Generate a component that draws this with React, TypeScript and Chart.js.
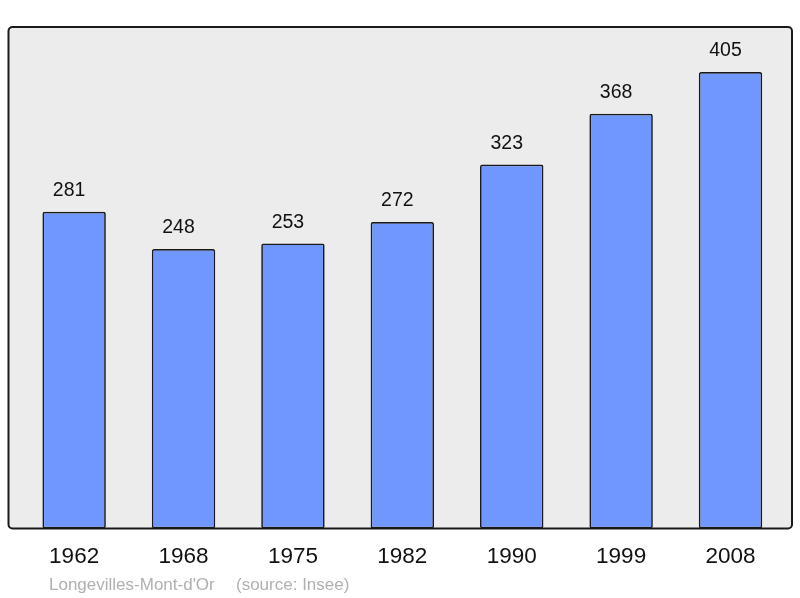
import React, { useEffect, useRef } from 'react';
import { Chart, registerables } from 'chart.js';

Chart.register(...registerables);

const years = ['1962', '1968', '1975', '1982', '1990', '1999', '2008'];
const population = [281, 248, 253, 272, 323, 368, 405];
const place = 'Longevilles-Mont-d\'Or';
const source = '(source: Insee)';

const FONT = '"Liberation Sans", Arial, sans-serif';

const framePlugin = {
  id: 'frame',
  beforeDatasetsDraw(chart: Chart) {
    const { ctx, chartArea: a } = chart;
    ctx.save();
    ctx.beginPath();
    ctx.roundRect(a.left, a.top, a.right - a.left, a.bottom - a.top, 4);
    ctx.fillStyle = '#ececec';
    ctx.fill();
    ctx.restore();
  },
  afterDatasetsDraw(chart: Chart) {
    const { ctx, chartArea: a } = chart;
    ctx.save();
    ctx.beginPath();
    ctx.roundRect(a.left, a.top, a.right - a.left, a.bottom - a.top, 4);
    ctx.lineWidth = 2;
    ctx.strokeStyle = '#1a1a1a';
    ctx.stroke();

    // value labels above bars
    const meta = chart.getDatasetMeta(0);
    ctx.fillStyle = '#111';
    ctx.font = `19.5px ${FONT}`;
    ctx.textAlign = 'center';
    ctx.textBaseline = 'middle';
    meta.data.forEach((el: any, i: number) => {
      ctx.fillText(String(population[i]), el.x - 5, el.y - 21);
    });

    // footer
    ctx.fillStyle = '#b0b0b0';
    ctx.font = `17px ${FONT}`;
    ctx.textAlign = 'left';
    ctx.fillText(place, 49, 585);
    ctx.fillText(source, 236, 585);
    ctx.restore();
  },
};

const App: React.FC = () => {
  const canvasRef = useRef<HTMLCanvasElement>(null);
  const chartRef = useRef<Chart | null>(null);

  useEffect(() => {
    if (!canvasRef.current) return;
    const ctx = canvasRef.current.getContext('2d');
    if (!ctx) return;
    if (chartRef.current) chartRef.current.destroy();

    chartRef.current = new Chart(ctx, {
      type: 'bar',
      data: {
        datasets: [
          {
            data: population.map((v, i) => ({ x: i, y: v })),
            backgroundColor: '#7097ff',
            borderColor: '#1a1a1a',
            borderWidth: 1.7,
            borderRadius: 2,
            borderSkipped: false,
            barPercentage: 0.58,
            categoryPercentage: 1,
          },
        ],
      },
      options: {
        responsive: true,
        maintainAspectRatio: false,
        animation: false,
        layout: { padding: { top: 27, left: 8.5, right: 8, bottom: 0 } },
        plugins: {
          legend: { display: false },
          tooltip: { enabled: false },
        },
        scales: {
          x: {
            type: 'linear',
            offset: false,
            min: -0.6,
            max: 6.562,
            border: { display: false },
            grid: { display: false, drawTicks: false },
            afterBuildTicks: (axis: any) => {
              axis.ticks = years.map((_, i) => ({ value: i }));
            },
            afterFit: (axis: any) => {
              axis.height = 69.5;
            },
            ticks: {
              autoSkip: false,
              maxRotation: 0,
              padding: 15,
              color: '#111',
              font: { family: FONT, size: 22.5 },
              callback: (v: any) => years[v] ?? '',
            },
          },
          y: {
            display: false,
            min: 0,
            max: 445,
          },
        },
      },
      plugins: [framePlugin],
    });

    return () => {
      if (chartRef.current) {
        chartRef.current.destroy();
        chartRef.current = null;
      }
    };
  }, []);

  return (
    <div style={{ position: 'absolute', left: 0, top: 0, width: 800, height: 598, background: '#fff' }}>
      <canvas ref={canvasRef} />
    </div>
  );
};

export default App;
